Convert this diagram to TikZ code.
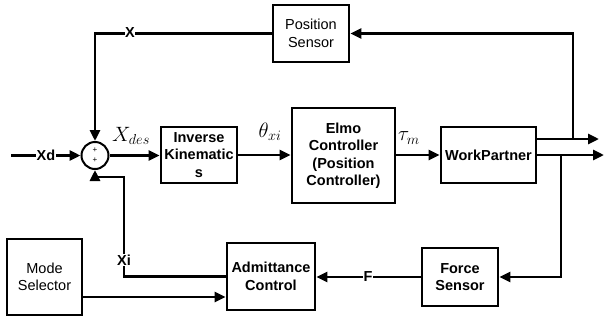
\documentclass[tikz,border=0pt]{standalone}
\usepackage{fontspec}
\setmainfont{Liberation Sans}
\usetikzlibrary{arrows.meta}

\begin{document}
\begin{tikzpicture}[x=1pt, y=-1pt, line width=2.8pt,
  block/.style={draw, line width=2.8pt, align=center, inner sep=1pt,
    font=\fontsize{14.5}{17.5}\selectfont\bfseries},
  plainblock/.style={block, font=\fontsize{14.5}{17.5}\selectfont},
  sig/.style={-{Triangle[length=11pt,width=10pt]}},
  tag/.style={fill=white, inner sep=0.5pt, font=\fontsize{14.5}{16}\selectfont\bfseries},
  mlab/.style={inner sep=0pt, font=\fontsize{20}{22}\selectfont}]
  \useasboundingbox (0,0) rectangle (605,322);

  % Blocks
  \node[plainblock, minimum width=76pt, minimum height=57pt] (pos) at (311,33.5) {Position\\Sensor};
  \node[block, minimum width=76pt, minimum height=56pt] (ik) at (199,155) {Inverse\\Kinematic\\s};
  \node[block, minimum width=103pt, minimum height=95pt] (elmo) at (343.5,155.5) {Elmo\\Controller\\(Position\\Controller)};
  \node[block, minimum width=95pt, minimum height=56pt] (wp) at (488.5,155) {WorkPartner};
  \node[block, minimum width=76pt, minimum height=58pt] (fs) at (460,277) {Force\\Sensor};
  \node[block, minimum width=88pt, minimum height=67pt] (adm) at (271,276.5) {Admittance\\Control};
  \node[plainblock, minimum width=75pt, minimum height=76pt] (mode) at (44.5,277) {Mode\\Selector};

  % Summing junction
  \node[draw, circle, line width=2pt, minimum size=27pt, inner sep=0pt] (sum) at (95,155.5) {};
  \node[inner sep=0pt, font=\fontsize{8}{8}\selectfont] (plusA) at (95,150) {+};
  \node[inner sep=0pt, font=\fontsize{8}{8}\selectfont] (plusB) at (95,160) {+};

  % Branch points and free ends
  \coordinate (xdin) at (11,155.5);
  \coordinate (outA) at (599,139);
  \coordinate (outB) at (604,155);
  \coordinate (tapP) at (573,139);
  \coordinate (tapF) at (561,155);
  \coordinate (xiup) at (124,177);
  \coordinate (modeout) at (82,297);

  % Forward path
  \draw[sig] (xdin) -- (sum.west);
  \draw[sig] (sum.east) -- (sum.east -| ik.west);
  \draw[sig] (ik.east) -- (ik.east -| elmo.west);
  \draw[sig] (elmo.east |- wp.west) -- (wp.west);
  \draw[sig] (wp.east |- outA) -- (outA);
  \draw[sig] (wp.east) -- (outB);

  % Feedback paths
  \draw[sig] (tapP) |- (pos.east);
  \draw[sig] (pos.west) -| (sum.north);
  \draw[sig] (tapF) |- (fs.east);
  \draw[sig] (fs.west) -- (fs.west -| adm.east);
  \draw[sig] (adm.west) -| (xiup) -| (sum.south);
  \draw[sig] (modeout) -- (modeout -| adm.west);

  % Signal names
  \node[tag] (lblX) at (130,33) {X};
  \node[tag] (lblXd) at (46,155.5) {Xd};
  \node[tag] (lblXi) at (124,260) {Xi};
  \node[tag] (lblF) at (368,277) {F};
  \node[mlab] (lblXdes) at (131,136) {$X_{des}$};
  \node[mlab] (lbltheta) at (270,132) {$\theta_{xi}$};
  \node[mlab] (lbltau) at (409,138) {$\tau_m$};
\end{tikzpicture}
\end{document}
